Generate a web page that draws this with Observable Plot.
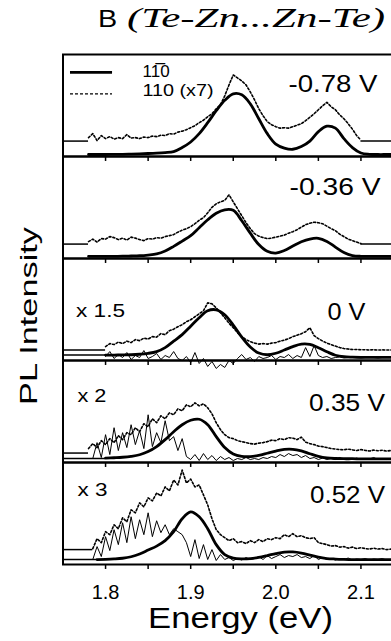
<!DOCTYPE html>
<html>
<head>
<meta charset="utf-8">
<script src="https://cdn.jsdelivr.net/npm/d3@7"></script>
<script src="https://cdn.jsdelivr.net/npm/@observablehq/plot@0.6"></script>
<style>
html, body { margin: 0; padding: 0; background: #fff; overflow: hidden; }
#chart { width: 391px; height: 641px; overflow: hidden; position: relative; }
</style>
</head>
<body>
<div id="chart"></div>
<script>
// ---- categories / labels ----
const panels = ["-0.78 V", "-0.36 V", "0 V", "0.35 V", "0.52 V"];
const multipliers = ["", "", "x 1.5", "x 2", "x 3"];
const legendLabels = ["11\u03050", "110 (x7)"];
const tickValues = [1.8, 1.85, 1.9, 1.95, 2.0, 2.05, 2.1];
const tickLabelValues = [1.8, 1.9, 2.0, 2.1];

// ---- series values (PL intensity, arbitrary units, offset per trace) ----
// solid: 1-10 polarization, sampled every 0.01 eV
const p1Solid = [2,2,2,2.1,2.2,2.4,2.7,3.0,3.4,4.0,5.0,9.0,14.6,23,34,46,56.5,63,62,53,38,23,12.5,8.5,7.3,10,15.5,25,30.5,28.5,18,9,3.5,2.2,2,2,2];
const p2Solid = [2.2,2.2,2.2,2.2,2.3,2.5,2.8,3.5,4.6,7.5,12.2,17.5,23,31,39,45.5,49,48.5,38,25.5,14,7.2,5.5,8,12.5,16.8,19.6,20.3,17.2,11.5,6,3,2.2,2.2,2.2,2.2,2.2];
const p3Solid = [5.5,5.5,5.6,5.8,6.3,7.2,9.0,13.0,19.5,26,34.5,43,50,51,46,35.5,23.5,13.5,7.5,5.8,7.3,10.5,14,16.5,16.2,12.8,8.8,5.3,3.8,3.4,3.2,3.2,3.2,3.2,3.2];
const p4Solid = [4.4,4.8,5.3,6.2,7.8,11,16,23,31,38,42.5,43.5,38,26,15,8.5,6.2,6,7.2,9.3,11.5,13.2,13.3,11.6,8.8,6.2,4.6,4.0,3.8,3.8,3.7,3.7,3.7,3.7,3.7];
const p5Solid = [5,5.2,5.6,6.3,7.8,10.5,14.5,18.5,24,33,46,53,48,36,20,10,6.5,5.7,6,7.2,9,11,12.5,12.6,11.5,9.5,7.3,6,5.5,5.2,5,5,5,5,5,5];

// dashed: 110 polarization (x7), sampled every 0.005 eV
const p1Dash = [19,23,16,21,18,20,17.5,19,18,22,18.5,19,18,19.5,19,20.5,20,21.5,21,23,22.5,24.5,25.5,27,29,31,34,36.5,40,43,48,52,61,72,82,79,76,72,65,57,48,41,35,32,30,28.5,29,28.5,30,31.5,33,36,39.5,43,47,51,54.5,50,47,42,38,33,27.5,21,16.5];
const p2Dash = [17,19.5,16.5,20,19.5,22,21,19,20.5,18.5,21.5,20.5,19,18,20,19.5,21,20.5,22,23,24,26.5,28.5,30,32,35,38.5,41,46,51.5,55,57,58.5,64,57,50,43,36,30,25,22.5,21,20,20.5,21.5,22.5,23.5,25.5,27,29,31.5,34,35.5,36.5,36,35,32.5,30,28,24.5,22,19.5,18,16.5,15];
const p3Dash = [14,17,16,18.5,17,19.5,18,21,20,22.5,21.5,24,23.5,27,26,30,31.5,34,36,39,41,44,47,50,58,57,53,48,43,37.5,33,28,24,21,19,17.5,16.5,17,16.5,17.5,18,19.5,20.5,22,24,25.5,27,29,33,25,22,19.5,17.5,16,14.5,13,12,11.5,11,11,10.8,10.8,10.6,10.8,10.5,10.7,10.5,10.6,10.5];
const p4Dash = [14,19,15,22,18,24,20,27,23,30,28,35,31,39,36,44,40,47,44,50,48,54,52,58,56,60,57,59,55,49,40,33,28,25,24,22,21,20,19,18.5,19.5,20,21,22.5,22,24,23,25,24.5,23,25.5,20.5,19,18,16.5,16,15,14,13.5,13,12.8,13.5,12.7,12,13,12.2,11.5,12.5,11.8,12.3,11.5,12,11.7];
const p5Dash = [16,26,22,33,30,40,36,47,43,55,52,62,58,67,64,72,69,78,74,85,80,95,82,86,78,80,70,60,46,35,30,27,24,26,22,23,21,24,22,25,23,26,25,27,26,30,28,31,28,29,27,26,27,22,21,20,18.5,19,17.5,18,16.5,17.5,16,17,16,15.5,16.5,15.5,16,15,15.5,15];

// thin: difference traces, sampled every 0.005 eV
const p3Thin = [4,9,2,6,3,8,1,5,3,10,2,4,7,1,5,3,9,2,0,4,-2,8,-3,2,-6,-1,-8,-4,-7,0,-3,2,6,1,3,-1,4,2,3,5,1,4,3,6,2,5,3,13,4,15,5,3,4,2,3,3.5,2.5,3,3.5,3,2.5,3,3.5,3,2.5,3,3,3.5,3];
const p4Thin = [4,20,5,28,8,35,12,30,15,38,18,32,14,48,16,30,20,42,22,26,12,24,6,3,8,2,9,3,7,2,6,3,5,2,4,3,5,3,4,3,5,4,6,5,8,6,9,7,8,5,7,4,5,3,4.5,3,4,3,5,3,4,3,4.5,3,4,3.5,5,3,4,3,4,3];
const p5Thin = [5,18,8,28,14,35,20,42,22,48,26,45,30,52,28,44,32,40,30,36,33,30,22,8,25,6,20,5,15,4,10,5,7,4,6,4.5,7,5,6,8,5,9,6,8,10,7,9,8,10,7,8,6,9,5,7,5,6,4.5,6,5,6.5,4.5,5.5,5,6,4.5,5.5,5,6,4.5,5,5];

// start energies of each trace (eV) and baseline offsets
const solidStart = [1.78, 1.78, 1.80, 1.80, 1.79];
const dashStart = [1.78, 1.78, 1.80, 1.78, 1.785];
const thinStart = [null, null, 1.80, 1.785, 1.785];
const dashBase = [15.5, 14.5, 10.5, 9.5, 15];
const solidBase = [null, null, 5.5, 4, 5];

// ---- build tables ----
const solids = [p1Solid, p2Solid, p3Solid, p4Solid, p5Solid];
const dashes = [p1Dash, p2Dash, p3Dash, p4Dash, p5Dash];
const thins = [null, null, p3Thin, p4Thin, p5Thin];
const series = (vals, start, step, panel) => vals.map((v, i) => ({E: start + i * step, I: v, panel}));
const solidData = solids.flatMap((v, k) => series(v, solidStart[k], 0.01, panels[k]));
const dashData = dashes.flatMap((v, k) => series(v, dashStart[k], 0.005, panels[k]));
const thinData = thins.flatMap((v, k) => v ? series(v, thinStart[k], 0.005, panels[k]) : []);

const stubs = [];
panels.forEach((p, k) => {
  stubs.push({panel: p, h: dashBase[k], x1: 1.75, x2: dashStart[k]});
  if (solidBase[k] != null) stubs.push({panel: p, h: solidBase[k], x1: 1.75, x2: solidStart[k]});
  if (k < 2) stubs.push({panel: p, h: dashBase[k], x1: dashStart[k] + (dashes[k].length - 1) * 0.005, x2: 2.15});
});
const tickData = panels.flatMap(p => tickValues.map(x => ({x, panel: p})));

const voltPos = [[2.1195, 64.6], [2.123, 63.9], [2.1053, 40.8], [2.1283, 51.9], [2.1283, 62]];
const multPos = [null, null, [1.7653, 43.8], [1.767, 60.9], [1.767, 68.5]];
const voltText = panels.map((p, k) => ({panel: p, text: p, x: voltPos[k][0], y: voltPos[k][1]}));
const multText = multipliers.map((m, k) => m ? {panel: panels[k], text: m, x: multPos[k][0], y: multPos[k][1]} : null).filter(d => d);
const legendText = [
  {panel: panels[0], text: legendLabels[0], x: 1.8434, y: 79.6},
  {panel: panels[0], text: legendLabels[1], x: 1.8434, y: 60.6}
];

const svg = Plot.plot({
  width: 403,
  height: 641,
  marginTop: 52,
  marginBottom: 76,
  marginLeft: 62.5,
  marginRight: 0,
  style: {fontFamily: "'Liberation Sans', Arial, sans-serif", background: "white", maxWidth: "none", color: "black"},
  x: {domain: [1.75, 2.15]},
  y: {domain: [0, 102.6], axis: null},
  fy: {domain: panels, padding: 0, axis: null},
  marks: [
    Plot.frame({stroke: "black", strokeWidth: 2}),
    Plot.ruleX(tickData, {x: "x", fy: "panel", y1: 0, y2: -5, stroke: "black", strokeWidth: 1.5}),
    Plot.axisX(tickLabelValues, {tickSize: 0, tickPadding: 20, fontSize: 20, tickFormat: d3.format(".1f"), label: null}),
    Plot.ruleY(stubs, {y: "h", x1: "x1", x2: "x2", fy: "panel", stroke: "black", strokeWidth: 1.5}),
    Plot.line(thinData, {x: "E", y: "I", fy: "panel", stroke: "black", strokeWidth: 1}),
    Plot.line(dashData, {x: "E", y: "I", fy: "panel", stroke: "black", strokeWidth: 1.6, strokeDasharray: "2,2"}),
    Plot.line(solidData, {x: "E", y: "I", fy: "panel", stroke: "black", strokeWidth: 2.8, curve: "catmull-rom"}),
    Plot.ruleY([{panel: panels[0], h: 84.6}], {y: "h", x1: 1.7588, x2: 1.8082, fy: "panel", stroke: "black", strokeWidth: 2.8}),
    Plot.ruleY([{panel: panels[0], h: 62.9}], {y: "h", x1: 1.7588, x2: 1.8082, fy: "panel", stroke: "black", strokeWidth: 1.3, strokeDasharray: "3,2"}),
    Plot.text(voltText, {x: "x", y: "y", fy: "panel", text: "text", textAnchor: "end", lineAnchor: "bottom", fontSize: 23, fill: "black"}),
    Plot.text(multText, {x: "x", y: "y", fy: "panel", text: "text", textAnchor: "start", lineAnchor: "bottom", fontSize: 19, fill: "black"}),
    Plot.text(legendText, {x: "x", y: "y", fy: "panel", text: "text", textAnchor: "start", lineAnchor: "bottom", fontSize: 17, fill: "black"})
  ]
});
svg.style.maxWidth = "none";
document.getElementById("chart").appendChild(svg);

// stretch texts to the widths seen in the figure
const widths = new Map([["-0.78 V", 89], ["-0.36 V", 91], ["0 V", 38], ["0.35 V", 76], ["0.52 V", 75],
  ["x 1.5", 49], ["x 2", 29], ["x 3", 30], ["110 (x7)", 71]]);
d3.select(svg).selectAll("text").each(function() {
  const t = this.textContent;
  if (widths.has(t)) { this.setAttribute("textLength", widths.get(t)); this.setAttribute("lengthAdjust", "spacingAndGlyphs"); }
});

const s = d3.select(svg);
s.append("text").attr("transform", "translate(98,27) scale(1.2,1)").attr("text-anchor", "start")
  .attr("font-size", 24).attr("fill", "black").text("B");
s.append("text").attr("x", 127).attr("y", 27).attr("text-anchor", "start").attr("font-size", 28).attr("fill", "black")
  .attr("font-family", "'Liberation Serif', 'Times New Roman', serif").attr("font-style", "italic")
  .attr("textLength", 258).attr("lengthAdjust", "spacingAndGlyphs").text("(Te-Zn...Zn-Te)");
s.append("text").attr("transform", "translate(37,316) rotate(-90)").attr("text-anchor", "middle")
  .attr("font-size", 24).attr("fill", "black").attr("textLength", 178).attr("lengthAdjust", "spacingAndGlyphs").text("PL Intensity");
s.append("text").attr("x", 240.5).attr("y", 628).attr("text-anchor", "middle")
  .attr("font-size", 30).attr("fill", "black").attr("textLength", 185).attr("lengthAdjust", "spacingAndGlyphs").text("Energy (eV)");
</script>
</body>
</html>
